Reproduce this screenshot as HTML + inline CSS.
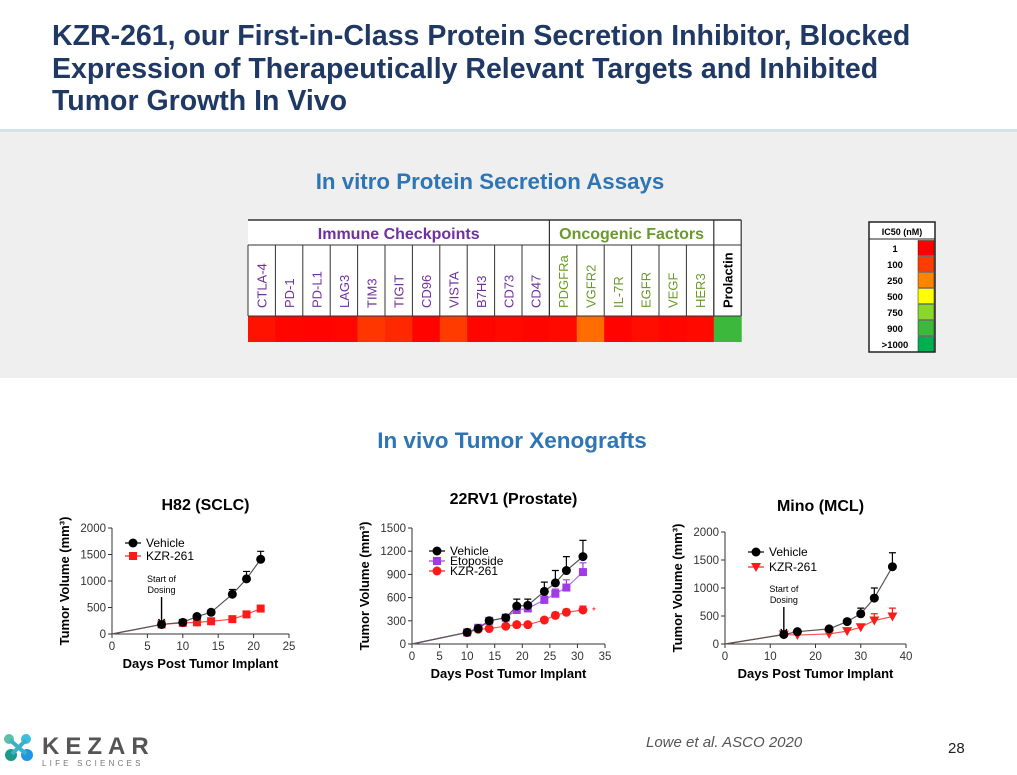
<!DOCTYPE html>
<html><head><meta charset="utf-8"><style>
body{margin:0;background:#fff;font-family:"Liberation Sans",sans-serif}
svg{display:block}
</style></head><body>
<svg id="s" width="1017" height="775" viewBox="0 0 1017 775" xmlns="http://www.w3.org/2000/svg" font-family="Liberation Sans, sans-serif">
<g fill="#1f3864" font-weight="bold" font-size="28.5">
<text x="52" y="45">KZR-261, our First-in-Class Protein Secretion Inhibitor, Blocked</text>
<text x="52" y="78">Expression of Therapeutically Relevant Targets and Inhibited</text>
<text x="52" y="110">Tumor Growth In Vivo</text>
</g>
<rect x="0" y="129" width="1017" height="3" fill="#d3e3ea"/>
<rect x="0" y="132" width="1017" height="246" fill="#efefef"/>
<text x="490" y="189" text-anchor="middle" font-size="22.3" font-weight="bold" fill="#2e75b6">In vitro Protein Secretion Assays</text>
<g id="heat"></g>
<g id="leg"></g>
<text x="512" y="448" text-anchor="middle" font-size="22.5" font-weight="bold" fill="#2e75b6">In vivo Tumor Xenografts</text>
<g id="c1"></g>
<g id="c2"></g>
<g id="c3"></g>
<g>
<circle cx="9" cy="739" r="5" fill="#5bc2a8"/><circle cx="26" cy="739" r="5" fill="#3bbfe0"/>
<circle cx="11" cy="755" r="6" fill="#1a9a8a"/><circle cx="27" cy="755" r="6" fill="#2196e0"/>
<path d="M10 740 L26 754 M26 740 L12 754" stroke="#3bb0c8" stroke-width="4"/>
<text x="42" y="754" font-size="24" font-weight="bold" fill="#555" letter-spacing="6">KEZAR</text>
<text x="42" y="766" font-size="8" fill="#777" letter-spacing="3.2">LIFE SCIENCES</text>
</g>
<text x="646" y="747" font-size="15" font-style="italic" fill="#555">Lowe et al. ASCO 2020</text>
<text x="948" y="753" font-size="15" fill="#222">28</text>
</svg>
<script>
const NS="http://www.w3.org/2000/svg";
function el(p,t,a,txt){const e=document.createElementNS(NS,t);for(const k in a)e.setAttribute(k,a[k]);if(txt!==undefined)e.textContent=txt;p.appendChild(e);return e;}
// heatmap data
const targets=["CTLA-4","PD-1","PD-L1","LAG3","TIM3","TIGIT","CD96","VISTA","B7H3","CD73","CD47","PDGFRa","VGFR2","IL-7R","EGFR","VEGF","HER3","Prolactin"];
const groups=["imm","imm","imm","imm","imm","imm","imm","imm","imm","imm","imm","onc","onc","onc","onc","onc","onc","ctl"];
const ic50=[20,5,3,8,60,45,3,65,5,10,5,10,150,3,15,8,10,1000];
function heatColor(v){if(v>=900)return"#3cb83c";if(v>=100)return"#ff6c00";const r=255,g=Math.round(Math.min(80,v*0.9));return`rgb(${r},${g},0)`;}
const H=document.getElementById('heat');
const hx0=248,cw=27.4,hy0=220;
el(H,'rect',{x:hx0,y:hy0,width:cw*18,height:122,fill:"#fff"});
el(H,'line',{x1:hx0,y1:hy0,x2:hx0+cw*18,y2:hy0,stroke:"#333","stroke-width":1.5});
let t=el(H,'text',{x:hx0+cw*5.5,y:hy0+19,"text-anchor":"middle","font-size":16,"font-weight":"bold",fill:"#7030a0"},"Immune Checkpoints");

t=el(H,'text',{x:hx0+cw*14,y:hy0+19,"text-anchor":"middle","font-size":16,"font-weight":"bold",fill:"#6a9a2a"},"Oncogenic Factors");

targets.forEach((n,i)=>{const x=hx0+i*cw;
 const c=el(H,'rect',{x:x,y:316,width:cw+0.5,height:26,fill:heatColor(ic50[i])});
 
 el(H,'line',{x1:x,y1:245,x2:x,y2:316,stroke:"#333","stroke-width":1});
 const col=groups[i]=="imm"?"#7030a0":groups[i]=="onc"?"#6a9a2a":"#000";
 const tx=el(H,'text',{x:0,y:0,transform:`translate(${x+cw/2+5},308) rotate(-90)`,"font-size":13,"font-weight":groups[i]=="ctl"?"bold":"normal",fill:col},n);
 
});
[11,17].forEach(i=>el(H,'line',{x1:hx0+i*cw,y1:hy0,x2:hx0+i*cw,y2:316,stroke:"#333","stroke-width":1.2}));
el(H,'line',{x1:hx0+18*cw,y1:hy0,x2:hx0+18*cw,y2:316,stroke:"#333","stroke-width":1.2});
el(H,'line',{x1:hx0,y1:245,x2:hx0+18*cw,y2:245,stroke:"#333","stroke-width":1});
el(H,'line',{x1:hx0,y1:316,x2:hx0+18*cw,y2:316,stroke:"#333","stroke-width":1});
// legend
const legLabels=["1","100","250","500","750","900",">1000"];
const legColors=["#ff0000","#ff3c00","#ff8400","#ffff00","#88d82a","#3cb83c","#00b050"];
const L=document.getElementById('leg');
el(L,'rect',{x:869,y:222,width:66,height:130,fill:"#fff",stroke:"#222","stroke-width":1.5});
el(L,'text',{x:902,y:235,"text-anchor":"middle","font-size":9,"font-weight":"bold"},"IC50 (nM)");
el(L,'line',{x1:869,y1:239,x2:935,y2:239,stroke:"#222"});
legLabels.forEach((l,i)=>{const y=240+i*16;
 el(L,'text',{x:895,y:y+12,"text-anchor":"middle","font-size":9.5,"font-weight":"bold"},l);
 const r=el(L,'rect',{x:918,y:y+0.5,width:16,height:15,fill:legColors[i],stroke:"#222","stroke-width":0.5});
 
});
// chart data
const h82Days=[7,10,12,14,17,19,21];
const h82Veh=[180,220,330,410,750,1040,1410];
const h82VehErr=[20,30,40,40,90,140,150];
const h82Kzr=[180,210,220,240,280,370,480];
const h82KzrErr=[15,20,20,20,25,30,60];
const rvDays=[10,12,14,17,19,21,24,26,28,31];
const rvVeh=[150,200,300,340,490,500,680,790,950,1130];
const rvVehErr=[20,30,30,40,90,80,120,160,180,210];
const rvEto=[150,210,300,340,440,460,570,650,730,930];
const rvEtoErr=[20,20,30,30,40,40,50,60,100,120];
const rvKzr=[150,190,200,230,250,250,310,370,410,440];
const rvKzrErr=[15,20,20,20,20,20,30,40,40,50];
const miDays=[13,16,23,27,30,33,37];
const miVeh=[170,220,270,400,540,820,1380];
const miVehErr=[20,20,30,40,100,180,250];
const miKzr=[170,160,180,230,300,420,490];
const miKzrErr=[15,15,20,30,40,120,150];

function marker(g,shape,x,y,c){
 if(shape=="circle")el(g,'circle',{cx:x,cy:y,r:4.5,fill:c});
 else if(shape=="square")el(g,'rect',{x:x-4,y:y-4,width:8,height:8,fill:c});
 else el(g,'path',{d:`M${x-5} ${y-4}L${x+5} ${y-4}L${x} ${y+5}Z`,fill:c});
}
function chart(id,o){
 const g=document.getElementById(id);
 const X=v=>o.x0+(v/o.xmax)*(o.x1-o.x0), Y=v=>o.y0-(v/o.ymax)*(o.y0-o.y1);
 el(g,'text',{x:(o.x0+o.x1)/2+5,y:o.ty,"text-anchor":"middle","font-size":16,"font-weight":"bold"},o.title);
 el(g,'line',{x1:o.x0,y1:o.y0,x2:o.x0,y2:o.y1,stroke:"#333"});
 el(g,'line',{x1:o.x0,y1:o.y0,x2:o.x1,y2:o.y0,stroke:"#333"});
 o.yt.forEach(v=>{el(g,'line',{x1:o.x0-4,y1:Y(v),x2:o.x0,y2:Y(v),stroke:"#333"});el(g,'text',{x:o.x0-6,y:Y(v)+4,"text-anchor":"end","font-size":11.5,fill:"#333"},v);});
 o.xt.forEach(v=>{el(g,'line',{x1:X(v),y1:o.y0,x2:X(v),y2:o.y0+4,stroke:"#333"});el(g,'text',{x:X(v),y:o.y0+16,"text-anchor":"middle","font-size":11.5,fill:"#333"},v);});
 el(g,'text',{x:(o.x0+o.x1)/2,y:o.y0+34,"text-anchor":"middle","font-size":13,"font-weight":"bold"},"Days Post Tumor Implant");
 el(g,'text',{x:0,y:0,transform:`translate(${o.x0-43},${(o.y0+o.y1)/2}) rotate(-90)`,"text-anchor":"middle","font-size":13,"font-weight":"bold"},"Tumor Volume (mm³)");
 o.series.forEach(s=>{
  const sg=el(g,'g',{});
  
  
  let d=`M${X(0)} ${Y(0)}`;o.days.forEach((dd,i)=>d+=`L${X(dd)} ${Y(s.v[i])}`);
  el(sg,'path',{d:d,fill:"none",stroke:s.lc,"stroke-width":1.2});
  o.days.forEach((dd,i)=>{const x=X(dd),y=Y(s.v[i]),ye=Y(s.v[i]+s.e[i]);
   el(sg,'path',{d:`M${x} ${y}L${x} ${ye}M${x-3.5} ${ye}L${x+3.5} ${ye}`,stroke:s.c,"stroke-width":1.2});
   marker(sg,s.shape,x,y,s.c);});
 });
 o.legend.forEach((s,i)=>{const y=o.ly+i*o.lsp;
  el(g,'line',{x1:o.lx-8,y1:y,x2:o.lx+8,y2:y,stroke:s.c,"stroke-width":1.2});
  marker(g,s.shape,o.lx,y,s.c);
  el(g,'text',{x:o.lx+13,y:y+4,"font-size":12},s.label);});
 if(o.dose){const x=X(o.dose);
  el(g,'text',{x:x,y:Y(0)-o.dy,"text-anchor":"middle","font-size":9},"Start of");
  el(g,'text',{x:x,y:Y(0)-o.dy+11,"text-anchor":"middle","font-size":9},"Dosing");
  el(g,'path',{d:`M${x} ${Y(0)-o.dy+15}L${x} ${Y(0)-10}M${x-3} ${Y(0)-15}L${x} ${Y(0)-10}L${x+3} ${Y(0)-15}`,stroke:"#000","stroke-width":1.4,fill:"none"});}
 return {g,X,Y};
}
chart('c1',{title:"H82 (SCLC)",ty:510,x0:112,x1:289,y0:634,y1:528,xmax:25,ymax:2000,xt:[0,5,10,15,20,25],yt:[0,500,1000,1500,2000],days:h82Days,
 series:[{name:'kzr261-series',v:h82Kzr,e:h82KzrErr,c:"#ff1a1a",lc:"#ff5050",shape:"square"},{name:'vehicle-series',v:h82Veh,e:h82VehErr,c:"#000",lc:"#555",shape:"circle"}],
 legend:[{c:"#000",shape:"circle",label:"Vehicle"},{c:"#ff1a1a",shape:"square",label:"KZR-261"}],lx:133,ly:543,lsp:13,dose:7,dy:52});
const r2=chart('c2',{title:"22RV1 (Prostate)",ty:504,x0:412,x1:605,y0:644,y1:528,xmax:35,ymax:1500,xt:[0,5,10,15,20,25,30,35],yt:[0,300,600,900,1200,1500],days:rvDays,
 series:[{name:'kzr261-series',v:rvKzr,e:rvKzrErr,c:"#ff1a1a",lc:"#ff5050",shape:"circle"},{name:'etoposide-series',v:rvEto,e:rvEtoErr,c:"#a23ae8",lc:"#b070f0",shape:"square"},{name:'vehicle-series',v:rvVeh,e:rvVehErr,c:"#000",lc:"#555",shape:"circle"}],
 legend:[{c:"#000",shape:"circle",label:"Vehicle"},{c:"#a23ae8",shape:"square",label:"Etoposide"},{c:"#ff1a1a",shape:"circle",label:"KZR-261"}],lx:437,ly:551,lsp:10});
el(r2.g,'text',{x:r2.X(33),y:r2.Y(rvKzr[rvKzr.length-1])+4,"font-size":10,fill:"#ff1a1a","text-anchor":"middle"},"*");
chart('c3',{title:"Mino (MCL)",ty:511,x0:725,x1:906,y0:644,y1:532,xmax:40,ymax:2000,xt:[0,10,20,30,40],yt:[0,500,1000,1500,2000],days:miDays,
 series:[{name:'kzr261-series',v:miKzr,e:miKzrErr,c:"#ff1a1a",lc:"#ff5050",shape:"tri"},{name:'vehicle-series',v:miVeh,e:miVehErr,c:"#000",lc:"#555",shape:"circle"}],
 legend:[{c:"#000",shape:"circle",label:"Vehicle"},{c:"#ff1a1a",shape:"tri",label:"KZR-261"}],lx:756,ly:552,lsp:15,dose:13,dy:52});
</script>
</body></html>
